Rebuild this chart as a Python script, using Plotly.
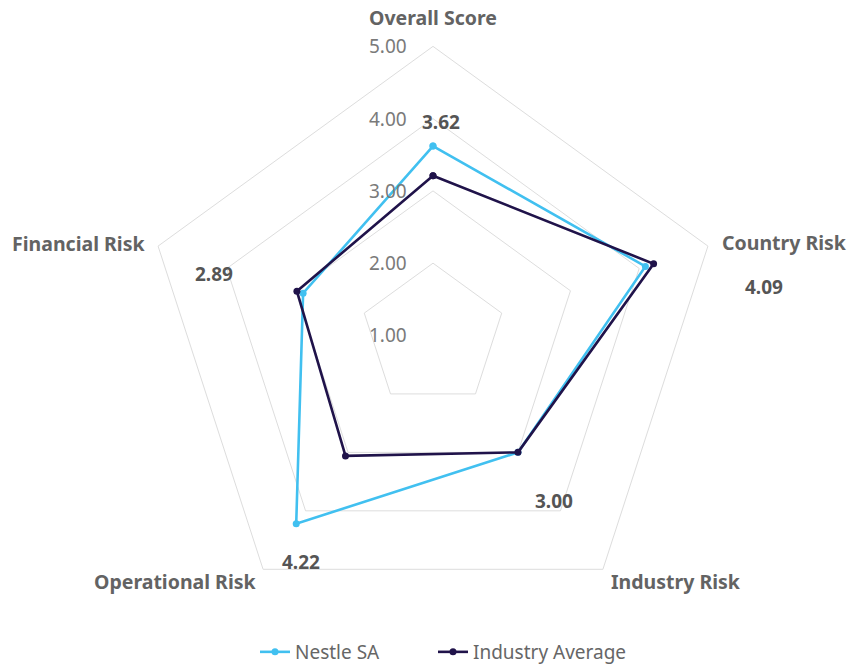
import plotly.graph_objects as go

categories = ["Overall Score", "Country Risk", "Industry Risk", "Operational Risk", "Financial Risk"]
nestle = [3.62, 4.09, 3.00, 4.22, 2.89]
industry_avg = [3.21, 4.21, 3.00, 3.06, 2.98]
radial_ticks = [1, 2, 3, 4, 5]
value_labels = ["3.62", "4.09", "3.00", "4.22", "2.89"]

# text label positions (screen pixels)
value_label_px = [(441, 120), (764, 287), (554, 504), (301, 566), (214, 274)]
category_label_px = [(433, 14), (784, 242), (676, 585), (175, 585), (78, 243)]
legend_y_px = 657

W, H = 848, 671
DY = 4  # vertical correction observed in rendering
FONT = "Noto Sans"
NESTLE_C = "#41C0F0"
AVG_C = "#20134A"
R_MIN, R_MAX = 1, 5


def px(x, y):
    return x / W, 1 - (y + DY) / H


fig = go.Figure()
fig.add_trace(go.Scatterpolar(
    r=nestle + nestle[:1], theta=categories + categories[:1],
    mode="lines+markers", name="Nestle SA", legend="legend",
    line=dict(color=NESTLE_C, width=2.6), marker=dict(size=7, color=NESTLE_C),
))
fig.add_trace(go.Scatterpolar(
    r=industry_avg + industry_avg[:1], theta=categories + categories[:1],
    mode="lines+markers", name="Industry Average", legend="legend2",
    line=dict(color=AVG_C, width=2.6), marker=dict(size=7, color=AVG_C),
))

cx, cy, R = 433, 336, 293
fx, fy = cx, cy + DY
legend_font = dict(size=19, color="#666666", family=FONT)
fig.update_layout(
    width=W, height=H,
    showlegend=True,
    margin=dict(l=0, r=0, t=0, b=0),
    paper_bgcolor="white", plot_bgcolor="white",
    font=dict(family=FONT, color="#666666", size=19),
    polar=dict(
        domain=dict(x=[(fx - R) / W, (fx + R) / W], y=[(H - fy - R) / H, (H - fy + R) / H]),
        gridshape="linear",
        bgcolor="white",
        radialaxis=dict(
            range=[R_MIN, R_MAX], tickvals=radial_ticks,
            showticklabels=False, showline=False, ticks="",
            gridcolor="#dddddd", gridwidth=1,
        ),
        angularaxis=dict(
            rotation=90, direction="clockwise",
            showgrid=False, showticklabels=False, ticks="",
            linecolor="#dddddd", linewidth=1,
        ),
    ),
    legend=dict(orientation="h", x=px(255, 0)[0], xanchor="left",
                y=px(0, legend_y_px)[1], yanchor="middle", font=legend_font, itemwidth=30),
    legend2=dict(orientation="h", x=px(433, 0)[0], xanchor="left",
                 y=px(0, legend_y_px)[1], yanchor="middle", font=legend_font, itemwidth=30),
)

# radial tick labels
for v in radial_ticks:
    ys = cy - (v - R_MIN) * R / (R_MAX - R_MIN)
    x, y = px(388, ys)
    fig.add_annotation(x=x, y=y, xref="paper", yref="paper", text=f"{v:.2f}",
                       showarrow=False, xanchor="center", yanchor="middle",
                       font=dict(size=19, color="#7a7a7a", family=FONT))

# category labels
for txt, (sx, sy) in zip(categories, category_label_px):
    x, y = px(sx, sy)
    fig.add_annotation(x=x, y=y, xref="paper", yref="paper", text="<b>" + txt + "</b>",
                       showarrow=False, xanchor="center", yanchor="middle",
                       font=dict(size=19.5, color="#636363", family=FONT))

# value labels
for txt, (sx, sy) in zip(value_labels, value_label_px):
    x, y = px(sx, sy)
    fig.add_annotation(x=x, y=y, xref="paper", yref="paper", text="<b>" + txt + "</b>",
                       showarrow=False, xanchor="center", yanchor="middle",
                       font=dict(size=19, color="#555555", family=FONT))

fig.write_html(
    "out.html",
    config={"displayModeBar": False},
    post_script="document.body.style.margin='0';document.body.style.padding='0';",
)
